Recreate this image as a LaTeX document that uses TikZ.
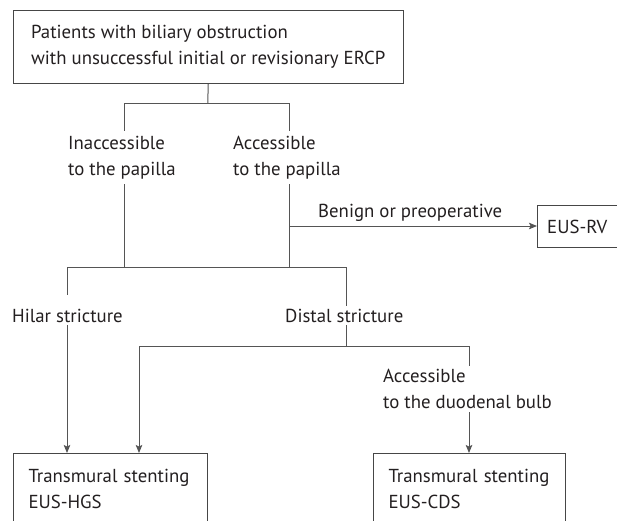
\documentclass[tikz,border=0pt]{standalone}
\usepackage{fontspec}
\setmainfont{PT Sans}
\usetikzlibrary{arrows.meta}
\definecolor{tx}{RGB}{35,31,32}
\definecolor{ln}{RGB}{85,85,85}
\definecolor{bx}{RGB}{70,70,70}
\begin{document}
\begin{tikzpicture}[x=1pt,y=-1pt,
  every node/.style={font=\fontsize{18.8}{26}\selectfont, text=tx},
  box/.style={draw=bx, line width=1pt, inner ysep=0pt, anchor=north west, align=left},
  lbl/.style={inner xsep=0pt, inner ysep=5pt, anchor=base west, align=left},
  conn/.style={draw=ln, line width=1pt},
  arr/.style={conn, -{Stealth[length=8pt,width=6.5pt,inset=1.5pt]}}]
\useasboundingbox (0,0) rectangle (617,520);
% boxes
\node[box, inner xsep=0pt, minimum width=390.5pt, minimum height=73.5pt] (top) at (12.5,9.5)
  {Patients with biliary obstruction\\with unsuccessful initial or revisionary ERCP};
\node[box, inner xsep=0pt, minimum width=79.5pt, minimum height=42pt, align=center] (rv) at (537,205) {EUS-RV};
\node[box, inner xsep=15pt, text width=164pt, minimum height=70.5pt] (hgs) at (13,453) {Transmural stenting\\EUS-HGS};
\node[box, inner xsep=15pt, text width=162pt, minimum height=70.5pt] (cds) at (373,453) {Transmural stenting\\EUS-CDS};
% labels (base = baseline of the last line)
\node[lbl] (inacc) at (68,175.5) {Inaccessible\\to the papilla};
\node[lbl] (acc) at (233,175.5) {Accessible\\to the papilla};
\node[lbl] (benign) at (318,217) {Benign or preoperative};
\node[lbl] (hilar) at (12,322) {Hilar stricture};
\node[lbl] (distal) at (285,322) {Distal stricture};
\node[lbl] (duod) at (383,408) {Accessible\\to the duodenal bulb};
% junctions
\coordinate (j0) at (207.75,103);
\coordinate (jL) at (124,103);
\coordinate (jR) at (289,103);
\coordinate (kL) at (124,267);
\coordinate (kR) at (289,267);
\coordinate (b) at (289,226);
\coordinate (mL) at (67,267);
\coordinate (mR) at (346,267);
\coordinate (h1) at (67,295);
\coordinate (h2) at (67,325);
\coordinate (d1) at (346,306);
\coordinate (d2) at (346,325);
\coordinate (n) at (346,346);
\coordinate (nL) at (139,346);
\coordinate (nR) at (469,346);
\coordinate (e1) at (469,366);
\coordinate (e2) at (469,412);
% connectors
\draw[conn] (top.south) -- (j0);
\draw[conn] (jL) -- (jR);
\draw[conn] (jL) -- (inacc.north -| jL);
\draw[conn] (jR) -- (acc.north -| jR);
\draw[conn] (inacc.south -| kL) -- (kL);
\draw[conn] (acc.south -| kR) -- (kR);
\draw[arr] (b) -- (rv.west |- b);
\draw[conn] (mL) -- (mR);
\draw[conn] (mL) -- (h1);
\draw[arr] (h2) -- (hgs.north -| mL);
\draw[conn] (mR) -- (d1);
\draw[conn] (d2) -- (n);
\draw[conn] (nL) -- (nR);
\draw[arr] (nL) -- (hgs.north -| nL);
\draw[conn] (nR) -- (e1);
\draw[arr] (e2) -- (cds.north -| nR);
\end{tikzpicture}
\end{document}
